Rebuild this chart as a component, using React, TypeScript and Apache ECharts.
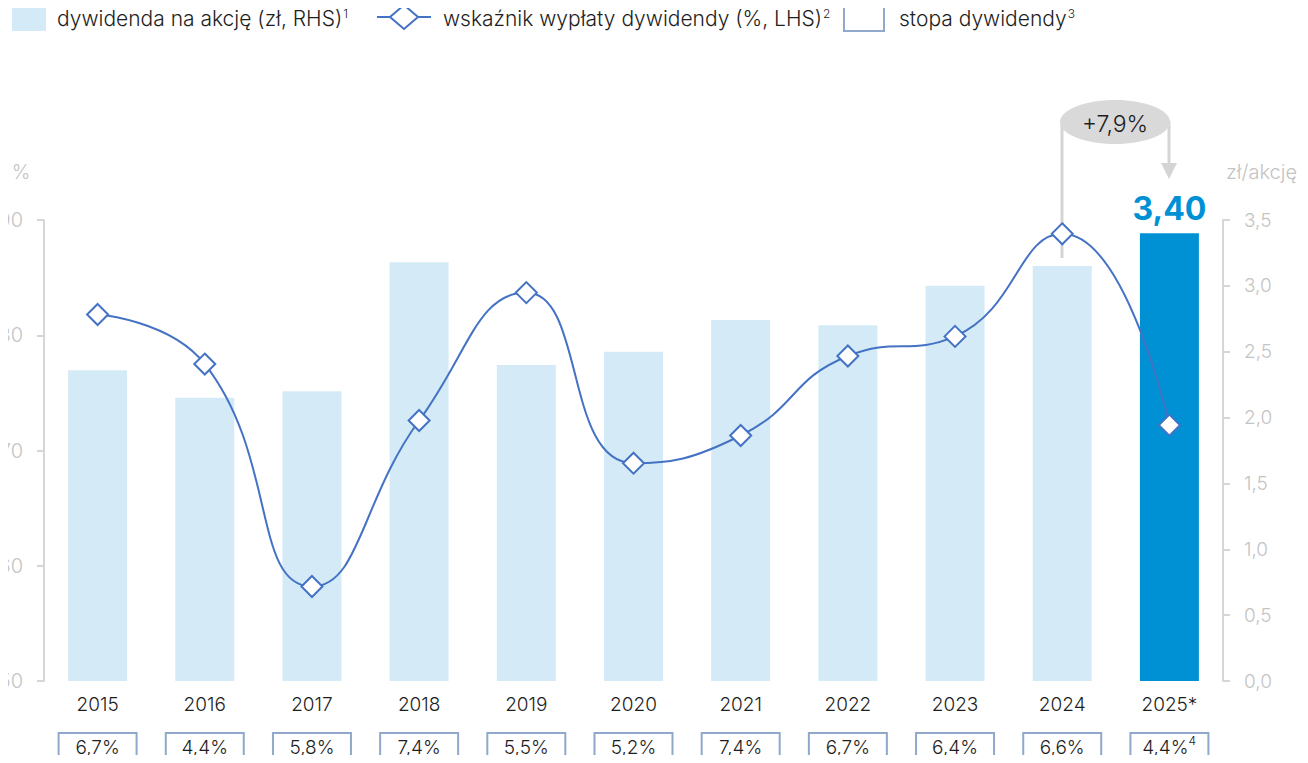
import React, { useEffect, useRef } from "react";
import * as echarts from "echarts";

const years = ["2015", "2016", "2017", "2018", "2019", "2020", "2021", "2022", "2023", "2024", "2025*"];
const dividendPerShare = [2.36, 2.15, 2.2, 3.18, 2.4, 2.5, 2.74, 2.7, 3.0, 3.15, 3.4];
const payoutRatio = [81.8, 77.5, 58.2, 72.6, 83.7, 68.9, 71.3, 78.2, 79.9, 88.8, 72.2];
const dividendYield = ["6,7%", "4,4%", "5,8%", "7,4%", "5,5%", "5,2%", "7,4%", "6,7%", "6,4%", "6,6%", "4,4%"];
const yieldFootnote = ["", "", "", "", "", "", "", "", "", "", "4"];
const leftTicks = { min: 50, max: 90, interval: 10 };
const rightTicks = { min: 0, max: 3.5, interval: 0.5 };
const growthLabel = "+7,9%";

const FONT = "Inter, Roboto, sans-serif";
const LIGHT = "#d4ebf7";
const DARK = "#0091d5";
const LINE = "#4472c4";
const AXIS = "#d6d6d6";
const AXIS_TEXT = "#c4c4c4";
const TEXT = "#1e1e1e";
const BOX = "#8fa8cc";

export default function App() {
  const ref = useRef<HTMLDivElement>(null);
  useEffect(() => {
    if (!ref.current) return;
    const chart = echarts.init(ref.current, null, { renderer: "svg" });
    const last = years.length - 1;
    const sup = (m: string, s: string, size: number) => ({
      text: `{m|${m}}{s|${s}}`,
      verticalAlign: "middle",
      rich: {
        m: { fontSize: size, fill: TEXT, fontFamily: FONT, fontWeight: 300 },
        s: { fontSize: 12, fill: TEXT, fontFamily: FONT, fontWeight: 300, padding: [0, 0, 10, 1] },
      },
    });
    const option: any = {
      animation: false,
      textStyle: { fontFamily: FONT },
      grid: { left: 44, right: 85, top: 220, bottom: 82, outerBoundsMode: "none", containLabel: false },
      xAxis: {
        type: "category",
        data: years,
        axisLine: { show: false },
        axisTick: { show: false },
        axisLabel: { color: TEXT, fontSize: 19, fontWeight: 300, margin: 14, fontFamily: FONT },
      },
      yAxis: [
        {
          type: "value",
          min: leftTicks.min,
          max: leftTicks.max,
          interval: leftTicks.interval,
          position: "left",
          axisLine: { show: true, lineStyle: { color: AXIS, width: 2 } },
          axisTick: { show: true, length: 7, lineStyle: { color: AXIS, width: 2 } },
          splitLine: { show: false },
          axisLabel: { color: AXIS_TEXT, fontSize: 20, fontWeight: 300, margin: 21, fontFamily: FONT },
        },
        {
          type: "value",
          min: rightTicks.min,
          max: rightTicks.max,
          interval: rightTicks.interval,
          position: "right",
          axisLine: { show: true, lineStyle: { color: AXIS, width: 2 } },
          axisTick: { show: true, length: 7, lineStyle: { color: AXIS, width: 2 } },
          splitLine: { show: false },
          axisLabel: {
            color: AXIS_TEXT,
            fontSize: 19,
            fontWeight: 300,
            margin: 21,
            fontFamily: FONT,
            formatter: (v: number) => v.toFixed(1).replace(".", ","),
          },
        },
      ],
      series: [
        {
          type: "bar",
          yAxisIndex: 1,
          barWidth: 59,
          data: dividendPerShare.map((v, i) =>
            i === last
              ? {
                  value: v,
                  itemStyle: { color: DARK },
                  label: {
                    show: true,
                    position: "top",
                    distance: 9,
                    formatter: (p: any) => p.value.toFixed(2).replace(".", ","),
                    color: DARK,
                    fontSize: 32,
                    fontWeight: "bold",
                    fontFamily: FONT,
                  },
                }
              : { value: v, itemStyle: { color: LIGHT } }
          ),
          z: 1,
        },
        {
          type: "line",
          yAxisIndex: 0,
          data: payoutRatio,
          smooth: 0.5,
          symbol: "diamond",
          symbolSize: 21,
          lineStyle: { color: LINE, width: 2 },
          itemStyle: { color: "#ffffff", borderColor: LINE, borderWidth: 2 },
          z: 5,
        },
        {
          type: "custom",
          yAxisIndex: 1,
          data: dividendYield.map((_, i) => [i, 0]),
          clip: false,
          z: 3,
          renderItem: (params: any, api: any) => {
            const i = api.value(0);
            const p = api.coord([i, 0]);
            const fn = yieldFootnote[i];
            const children: any[] = [
              {
                type: "rect",
                shape: { x: p[0] - 39, y: p[1] + 52, width: 78, height: 34 },
                style: { fill: "#ffffff", stroke: BOX, lineWidth: 2 },
              },
              {
                type: "text",
                x: p[0] + (fn ? -4 : 0),
                y: p[1] + 66,
                style: {
                  text: dividendYield[i],
                  align: "center",
                  verticalAlign: "middle",
                  fontSize: 19,
                  fontWeight: 300,
                  fill: TEXT,
                  fontFamily: FONT,
                },
              },
            ];
            if (fn) {
              children.push({
                type: "text",
                x: p[0] + 19,
                y: p[1] + 59,
                style: {
                  text: fn,
                  align: "left",
                  verticalAlign: "middle",
                  fontSize: 12,
                  fontWeight: 300,
                  fill: TEXT,
                  fontFamily: FONT,
                },
              });
            }
            return { type: "group", children };
          },
        },
      ],
      graphic: [
        // legend
        { type: "rect", shape: { x: 12, y: 5, width: 34, height: 26 }, style: { fill: LIGHT } },
        { type: "text", x: 57, y: 18, style: sup("dywidenda na akcję (zł, RHS)", "1", 21) },
        { type: "line", shape: { x1: 377, y1: 17, x2: 431, y2: 17 }, style: { stroke: LINE, lineWidth: 2 } },
        {
          type: "polygon",
          shape: { points: [[404, 5], [418, 17], [404, 29], [390, 17]] },
          style: { fill: "#ffffff", stroke: LINE, lineWidth: 2 },
        },
        { type: "text", x: 443, y: 18, style: sup("wskaźnik wypłaty dywidendy (%, LHS)", "2", 21) },
        { type: "rect", shape: { x: 844, y: 5, width: 40, height: 26 }, style: { fill: "#ffffff", stroke: BOX, lineWidth: 2 } },
        { type: "text", x: 899, y: 18, style: sup("stopa dywidendy", "3", 21) },
        // axis units
        { type: "text", x: 21, y: 172, style: { text: "%", align: "center", verticalAlign: "middle", fontSize: 20, fontWeight: 300, fill: AXIS_TEXT, fontFamily: FONT } },
        { type: "text", x: 1226, y: 172, style: { text: "zł/akcję", align: "left", verticalAlign: "middle", fontSize: 20, fontWeight: 300, fill: AXIS_TEXT, fontFamily: FONT } },
        // growth annotation
        { type: "line", shape: { x1: 1062, y1: 121, x2: 1062, y2: 258 }, style: { stroke: "#d4d4d4", lineWidth: 3 }, z: 0 },
        { type: "line", shape: { x1: 1169, y1: 121, x2: 1169, y2: 164 }, style: { stroke: "#d4d4d4", lineWidth: 3 } },
        {
          type: "polygon",
          shape: { points: [[1161, 163], [1177, 163], [1169, 179]] },
          style: { fill: "#d4d4d4" },
        },
        { type: "ellipse", shape: { cx: 1115, cy: 122, rx: 55, ry: 22 }, style: { fill: "#d9d9d9" } },
        {
          type: "text",
          x: 1115,
          y: 124,
          style: { text: growthLabel, align: "center", verticalAlign: "middle", fontSize: 23, fontWeight: 300, fill: TEXT, fontFamily: FONT },
        },
      ],
    };
    chart.setOption(option);
    return () => chart.dispose();
  }, []);
  return <div ref={ref} style={{ width: 1308, height: 763, margin: -8 }} />;
}
